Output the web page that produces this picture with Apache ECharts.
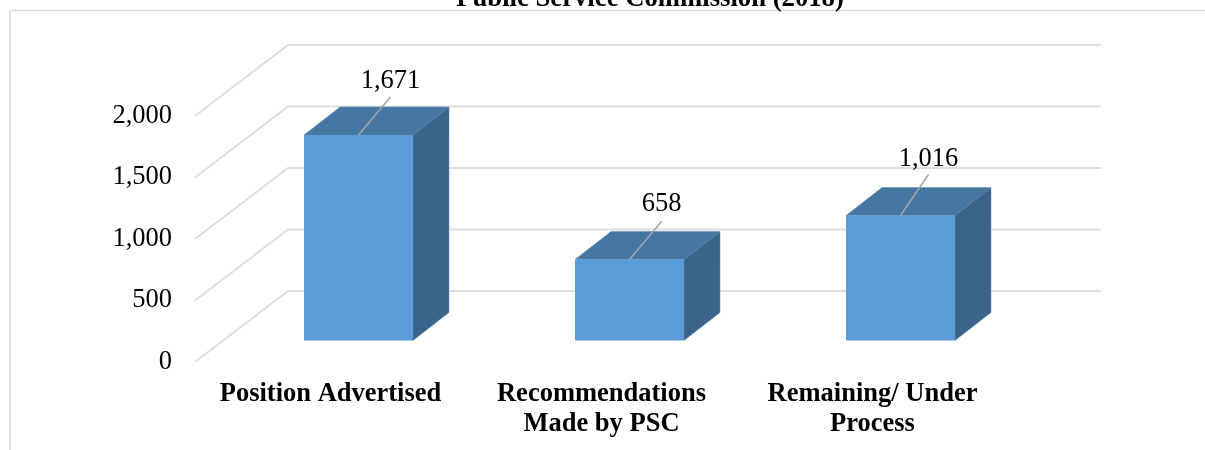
<!DOCTYPE html>
<html style="height: 100%">

<head>
  <meta charset="utf-8">
  <title>demo</title>
</head>

<body style="height: 100%; margin: 0; background: #fff">
<div id="container" style="width: 1205px; height: 450px"></div>

<script type="text/javascript" src="https://cdn.jsdelivr.net/npm/echarts@6/dist/echarts.min.js"></script>
<script type="text/javascript">
  var titleText = 'Public Service Commission (2018)';
  var categories = ['Position Advertised', 'Recommendations\nMade by PSC', 'Remaining/ Under\nProcess'];
  var values = [1671, 658, 1016];
  var yTicks = [0, 500, 1000, 1500, 2000];

  // fake 3d: floor depth of the chart and depth of one bar, in pixels
  var wallDx = 93, wallDy = -71;
  var barDx = 36, barDy = -28;
  var barShiftX = 28, barShiftY = -21.5;
  var barRatio = 0.402;
  // leader line end (dx, dy) and label height above the bar, per bar
  var leaders = [[32, -38, -54], [32, -38, -56], [28, -41, -56]];

  var serif = '"Liberation Serif", "Times New Roman", serif';

  function fmt(v) {
    return v.toLocaleString('en-US');
  }

  function renderWall(params, api) {
    var cs = params.coordSys;
    var y = api.coord([0, api.value(0)])[1];
    return {
      type: 'polyline',
      shape: {
        points: [
          [cs.x, y],
          [cs.x + wallDx, y + wallDy],
          [cs.x + cs.width + wallDx, y + wallDy]
        ]
      },
      style: { fill: null, stroke: '#dedede', lineWidth: 2 }
    };
  }

  function renderBar(params, api) {
    var i = api.value(0);
    var top = api.coord([i, api.value(1)]);
    var base = api.coord([i, 0]);
    var w = api.size([1, 0])[0] * barRatio;
    var x0 = top[0] + barShiftX - w / 2, x1 = x0 + w;
    var yt = top[1] + barShiftY, yb = base[1] + barShiftY;
    var mid = (x0 + x1) / 2;
    var lead = leaders[params.dataIndex];
    return {
      type: 'group',
      children: [
        {
          type: 'polygon',
          shape: { points: [[x0, yt], [x1, yt], [x1 + barDx, yt + barDy], [x0 + barDx, yt + barDy]] },
          style: { fill: '#4676a2', stroke: '#5a86b0', lineWidth: 0.5 }
        },
        {
          type: 'polygon',
          shape: { points: [[x1, yt], [x1 + barDx, yt + barDy], [x1 + barDx, yb + barDy], [x1, yb]] },
          style: { fill: '#3a6489', stroke: '#5a86b0', lineWidth: 0.5 }
        },
        {
          type: 'rect',
          shape: { x: x0, y: yt, width: w, height: yb - yt },
          style: { fill: '#5b9bd7' }
        },
        {
          type: 'line',
          shape: { x1: mid, y1: yt, x2: mid + lead[0], y2: yt + lead[1] },
          style: { stroke: '#a6a6a6', lineWidth: 1.5 }
        },
        {
          type: 'text',
          style: {
            x: mid + lead[0],
            y: yt + lead[2],
            text: fmt(api.value(1)),
            align: 'center',
            verticalAlign: 'middle',
            font: '26.5px ' + serif,
            fill: '#000'
          }
        }
      ]
    };
  }

  var myChart = echarts.init(document.getElementById('container'), null, { renderer: 'canvas' });

  myChart.setOption({
    animation: false,
    backgroundColor: '#fff',
    title: {
      text: titleText,
      left: 645,
      top: -19,
      textAlign: 'center',
      textStyle: { fontFamily: serif, fontSize: 26.7, fontWeight: 'bold', color: '#000' }
    },
    // chart frame runs off the right and bottom of the picture
    graphic: [
      {
        type: 'polyline',
        silent: true,
        shape: { points: [[10, 450], [10, 10.5], [1205, 10.5]] },
        style: { fill: null, stroke: '#d9d9d9', lineWidth: 1.5 }
      }
    ],
    grid: { left: 195, width: 813, top: 116, bottom: 88 },
    xAxis: {
      type: 'category',
      data: categories,
      axisLine: { show: false },
      axisTick: { show: false },
      axisLabel: {
        margin: 17,
        interval: 0,
        fontFamily: serif,
        fontSize: 26.5,
        fontWeight: 'bold',
        lineHeight: 30,
        color: '#000'
      }
    },
    yAxis: {
      type: 'value',
      min: 0,
      max: 2000,
      interval: 500,
      axisLine: { show: false },
      axisTick: { show: false },
      splitLine: { show: false },
      axisLabel: {
        margin: 23,
        fontFamily: serif,
        fontSize: 26.5,
        color: '#000',
        formatter: fmt
      }
    },
    series: [
      {
        type: 'custom',
        name: 'wall',
        z: 1,
        silent: true,
        renderItem: renderWall,
        encode: { y: 0 },
        data: yTicks.map(function (t) { return [t]; })
      },
      {
        type: 'custom',
        name: 'bars',
        z: 2,
        renderItem: renderBar,
        encode: { x: 0, y: 1 },
        data: values.map(function (v, i) { return [i, v]; })
      }
    ]
  });
</script>
</body>
</html>
